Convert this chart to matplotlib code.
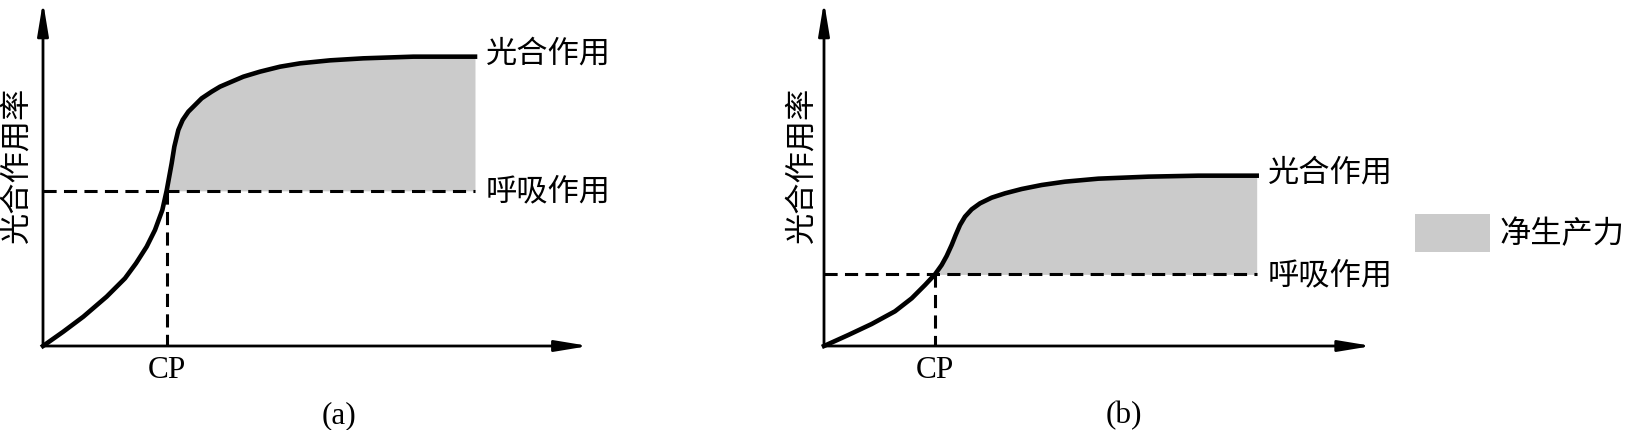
import matplotlib
matplotlib.use("Agg")
import matplotlib.pyplot as plt
from matplotlib.patches import Patch
import numpy as np

plt.rcParams['font.family'] = ['Noto Sans CJK SC', 'DejaVu Sans']

# curve, arbitrary units (0-100 along each axis)
a_x = [0, 3.81, 7.57, 11.94, 15.38, 17.45, 19.45, 21.01, 22.39, 23.20, 24.14,
       24.64, 25.39, 26.20, 27.27, 28.52, 29.77, 31.64, 33.21, 35.40, 37.59,
       40.71, 44.47, 48.22, 53.85, 60.10, 69.48, 81.05]
a_y = [0, 4.20, 8.60, 14.47, 19.84, 24.24, 29.13, 34.02, 39.88, 45.55, 53.57,
       58.46, 63.34, 66.28, 68.72, 70.67, 72.63, 74.58, 76.05, 77.52, 78.98,
       80.45, 81.91, 82.89, 83.77, 84.36, 84.85, 84.85]
a_resp = 45.5
a_cp = 23.2

b_x = [0, 4.50, 8.81, 13.12, 16.21, 18.67, 20.52, 21.75, 22.67, 23.60, 24.34,
       25.14, 26.06, 27.30, 28.84, 30.99, 33.46, 36.54, 40.23, 44.55, 50.71,
       59.95, 69.19, 79.98]
b_y = [0, 3.23, 6.45, 10.17, 13.98, 17.89, 21.02, 23.75, 26.39, 29.62, 32.55,
       35.48, 37.93, 40.08, 41.84, 43.50, 44.77, 46.04, 47.21, 48.19, 49.07,
       49.66, 49.95, 49.95]
b_resp = 21.0
b_cp = 20.5

ylabel = '光合作用率'
photo_label = '光合作用'
resp_label = '呼吸作用'
legend_label = '净生产力'
panel_names = ['(a)', '(b)']

W, H = 1628, 430
fill_color = '#cbcbcb'
fs = 22.5


def draw_panel(ax, x, y, resp, cp, name, xtip, ylab_x):
    x = np.array(x)
    y = np.array(y)
    ax.set_xlim(0, 100)
    ax.set_ylim(0, 100)
    ax.axis('off')

    # axes with arrows
    arrow = dict(arrowstyle='-|>,head_length=20,head_width=3.3', mutation_scale=1,
                 lw=2, color='black', shrinkA=0, shrinkB=0)
    ax.annotate('', xy=(xtip, 0), xytext=(0, 0), arrowprops=arrow, annotation_clip=False)
    ax.annotate('', xy=(0, 101), xytext=(0, 0), arrowprops=arrow, annotation_clip=False)

    ax.fill_between(x, y, resp, where=y >= resp, interpolate=True,
                    color=fill_color, lw=0, zorder=1)
    ax.plot([0, x[-1]], [resp, resp], color='black', lw=2.2,
            linestyle=(0, (4.3, 2.4)), zorder=2)
    ax.plot([cp, cp], [resp, 0], color='black', lw=2.2,
            linestyle=(0, (4.3, 2.4)), zorder=2)
    ax.plot(x, y, color='black', lw=3.3, solid_joinstyle='round', zorder=3, clip_on=False)

    ax.text(x[-1] + 2, y[-1] + 0.8, photo_label, fontsize=fs, va='center', ha='left')
    ax.text(x[-1] + 2, resp - 0.3, resp_label, fontsize=fs, va='center', ha='left')
    ax.text(cp, -7.3, 'CP', fontsize=fs, family='Liberation Serif', ha='center', va='center')
    ax.text(55.5, -20.5, name, fontsize=fs, family='Liberation Serif', ha='center', va='center')
    ax.text(ylab_x, 53, ylabel, fontsize=fs, rotation=90, ha='center', va='center')


fig = plt.figure(figsize=(W / 100, H / 100), dpi=100)
ax_a = fig.add_axes([43 / W, (H - 346) / H, 533 / W, 341 / H])
ax_b = fig.add_axes([824 / W, (H - 346) / H, 541 / W, 341 / H])

draw_panel(ax_a, a_x, a_y, a_resp, a_cp, panel_names[0], 102.4, -4.9)
draw_panel(ax_b, b_x, b_y, b_resp, b_cp, panel_names[1], 101.3, -4.1)

fig.legend(handles=[Patch(facecolor=fill_color, edgecolor='none', label=legend_label)],
           loc='center left', bbox_to_anchor=(1415 / W, (H - 233) / H),
           frameon=False, fontsize=fs, handlelength=2.4, handleheight=1.45,
           handletextpad=0.3, borderpad=0, borderaxespad=0)

fig.savefig('out.png', dpi=100)
